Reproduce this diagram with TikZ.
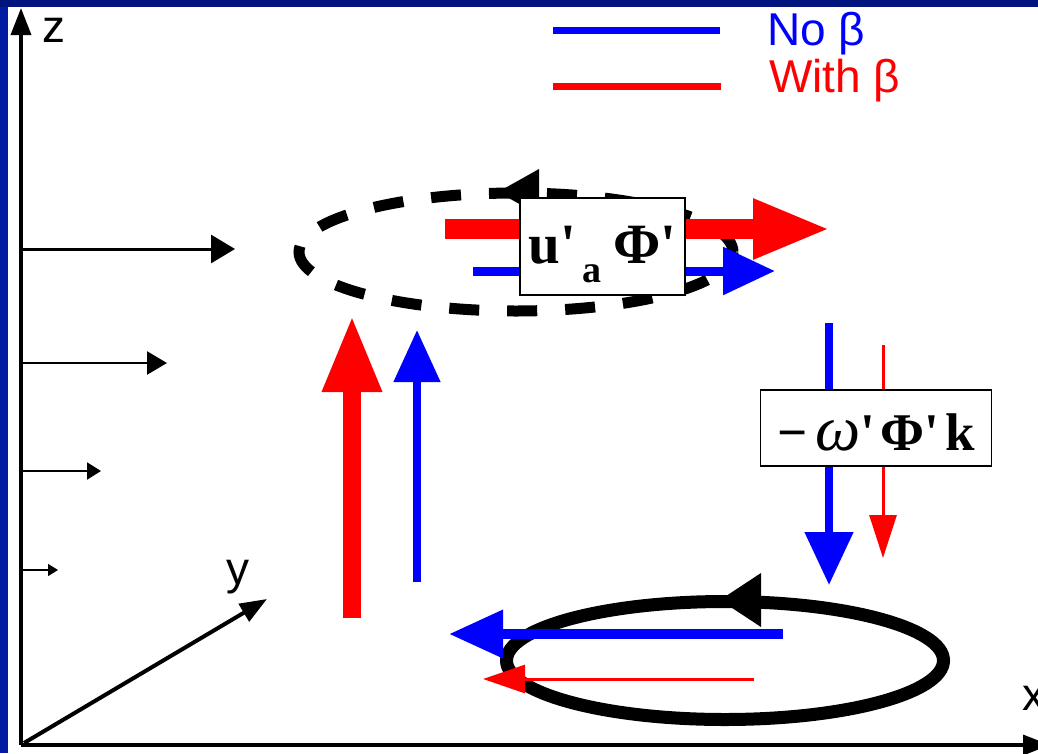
\documentclass[tikz,border=0pt]{standalone}
\usepackage{fontspec}
\setmainfont{Liberation Sans}
\newfontfamily\timesfont{Liberation Serif}[Ligatures=TeXOff]
\usetikzlibrary{arrows.meta}
\definecolor{frametop}{RGB}{0,20,125}
\definecolor{frameleft}{RGB}{0,28,160}
\definecolor{noblue}{RGB}{0,0,255}
\definecolor{withred}{RGB}{255,0,0}

\begin{document}
\begin{tikzpicture}[x=1pt, y=-1pt,
  axis/.style={line width=3.5pt, -{Triangle[length=27pt,width=20pt]}},
  lbl/.style={inner sep=0pt, anchor=base west, font=\fontsize{46}{46}\selectfont},
  eqbox/.style={draw, fill=white, line width=1.8pt, inner sep=0pt},
  hd/.style 2 args={-{Triangle[length=#1,width=#2]}},
]
\useasboundingbox (0,0) rectangle (1038,753);
\clip (0,0) rectangle (1038,753);
\fill[white] (0,0) rectangle (1038,753);

% Frame
\fill[frameleft] (0,0) rectangle (8,753);
\fill[frametop] (0,0) rectangle (1038,7);

% Axes
\coordinate (O) at (21,745);
\draw[axis] (O) -- (21,8);
\draw[axis] (O) -- (1050,745);
\draw[axis, line width=4pt] (24,743) -- (267,599);
\node[lbl] (zlbl) at (42,42) {z};
\node[lbl] (ylbl) at (226,584) {y};
\node[lbl] (xlbl) at (1022,710) {x};

% Velocity profile
\foreach \yy/\xx/\lw/\hl/\hw in {249/235/3/24/28, 363/167/2.5/20/23,
                                 471/101/2/14/17, 570/58/1.5/10/12}
  \draw[line width=\lw pt, hd={\hl pt}{\hw pt}] (21,\yy) -- (\xx,\yy);

% Legend
\draw[noblue, line width=7pt] (553,30) -- (720,30);
\draw[withred, line width=7pt] (553,86) -- (721,86);
\node[lbl, noblue] (noleg) at (767,45) {No β};
\node[lbl, withred] (withleg) at (769,92) {With β};

% Eddies
\draw[line width=11pt, dash pattern=on 30pt off 28pt]
  (516,252) ellipse [x radius=217pt, y radius=59pt];
\fill (498,192) -- (539,169) -- (539,215) -- cycle;
\draw[line width=13pt] (725,660.5) ellipse [x radius=218.5pt, y radius=59pt];
\fill (720,600) -- (761,573) -- (761,627) -- cycle;

% Rising branch
\draw[withred, line width=18pt, hd={77pt}{55pt}] (352,618) -- (352,315);
\draw[noblue, line width=8pt, hd={52pt}{45pt}] (417,582) -- (417,330);

% Upper flux
\draw[withred, line width=20pt, hd={78pt}{55pt}] (445,229) -- (831,229);
\draw[noblue, line width=9pt, hd={52pt}{46pt}] (473,271) -- (775,271);

% Sinking branch
\draw[noblue, line width=8pt, hd={53pt}{47pt}] (829,323) -- (829,585);
\draw[withred, line width=3pt, hd={43pt}{27pt}] (883,345) -- (883,558);

% Lower flux
\draw[noblue, line width=10pt, hd={54pt}{46pt}] (783,634) -- (449,634);
\draw[withred, line width=3pt, hd={42pt}{28pt}] (754,679) -- (483,679);

% Boxes
\node[eqbox, minimum width=165pt, minimum height=97pt,
      text height=40pt, text depth=7pt] (flux) at (602.5,246.5)
  {\timesfont\bfseries\fontsize{57}{57}\selectfont
   u'\hspace{6pt}\raisebox{-19pt}{\fontsize{38}{38}\selectfont a}\hspace{12pt}Φ'};
\node[eqbox, minimum width=231pt, minimum height=76pt,
      text height=48pt, text depth=4pt] (omg) at (876,428)
  {\timesfont\fontsize{53}{53}\selectfont
   \textbf{−}\hspace{8pt}{\itshape\fontsize{64}{64}\selectfont ω}\textbf{'}\hspace{5pt}\textbf{Φ'}\hspace{6pt}\textbf{k}};
\end{tikzpicture}
\end{document}
